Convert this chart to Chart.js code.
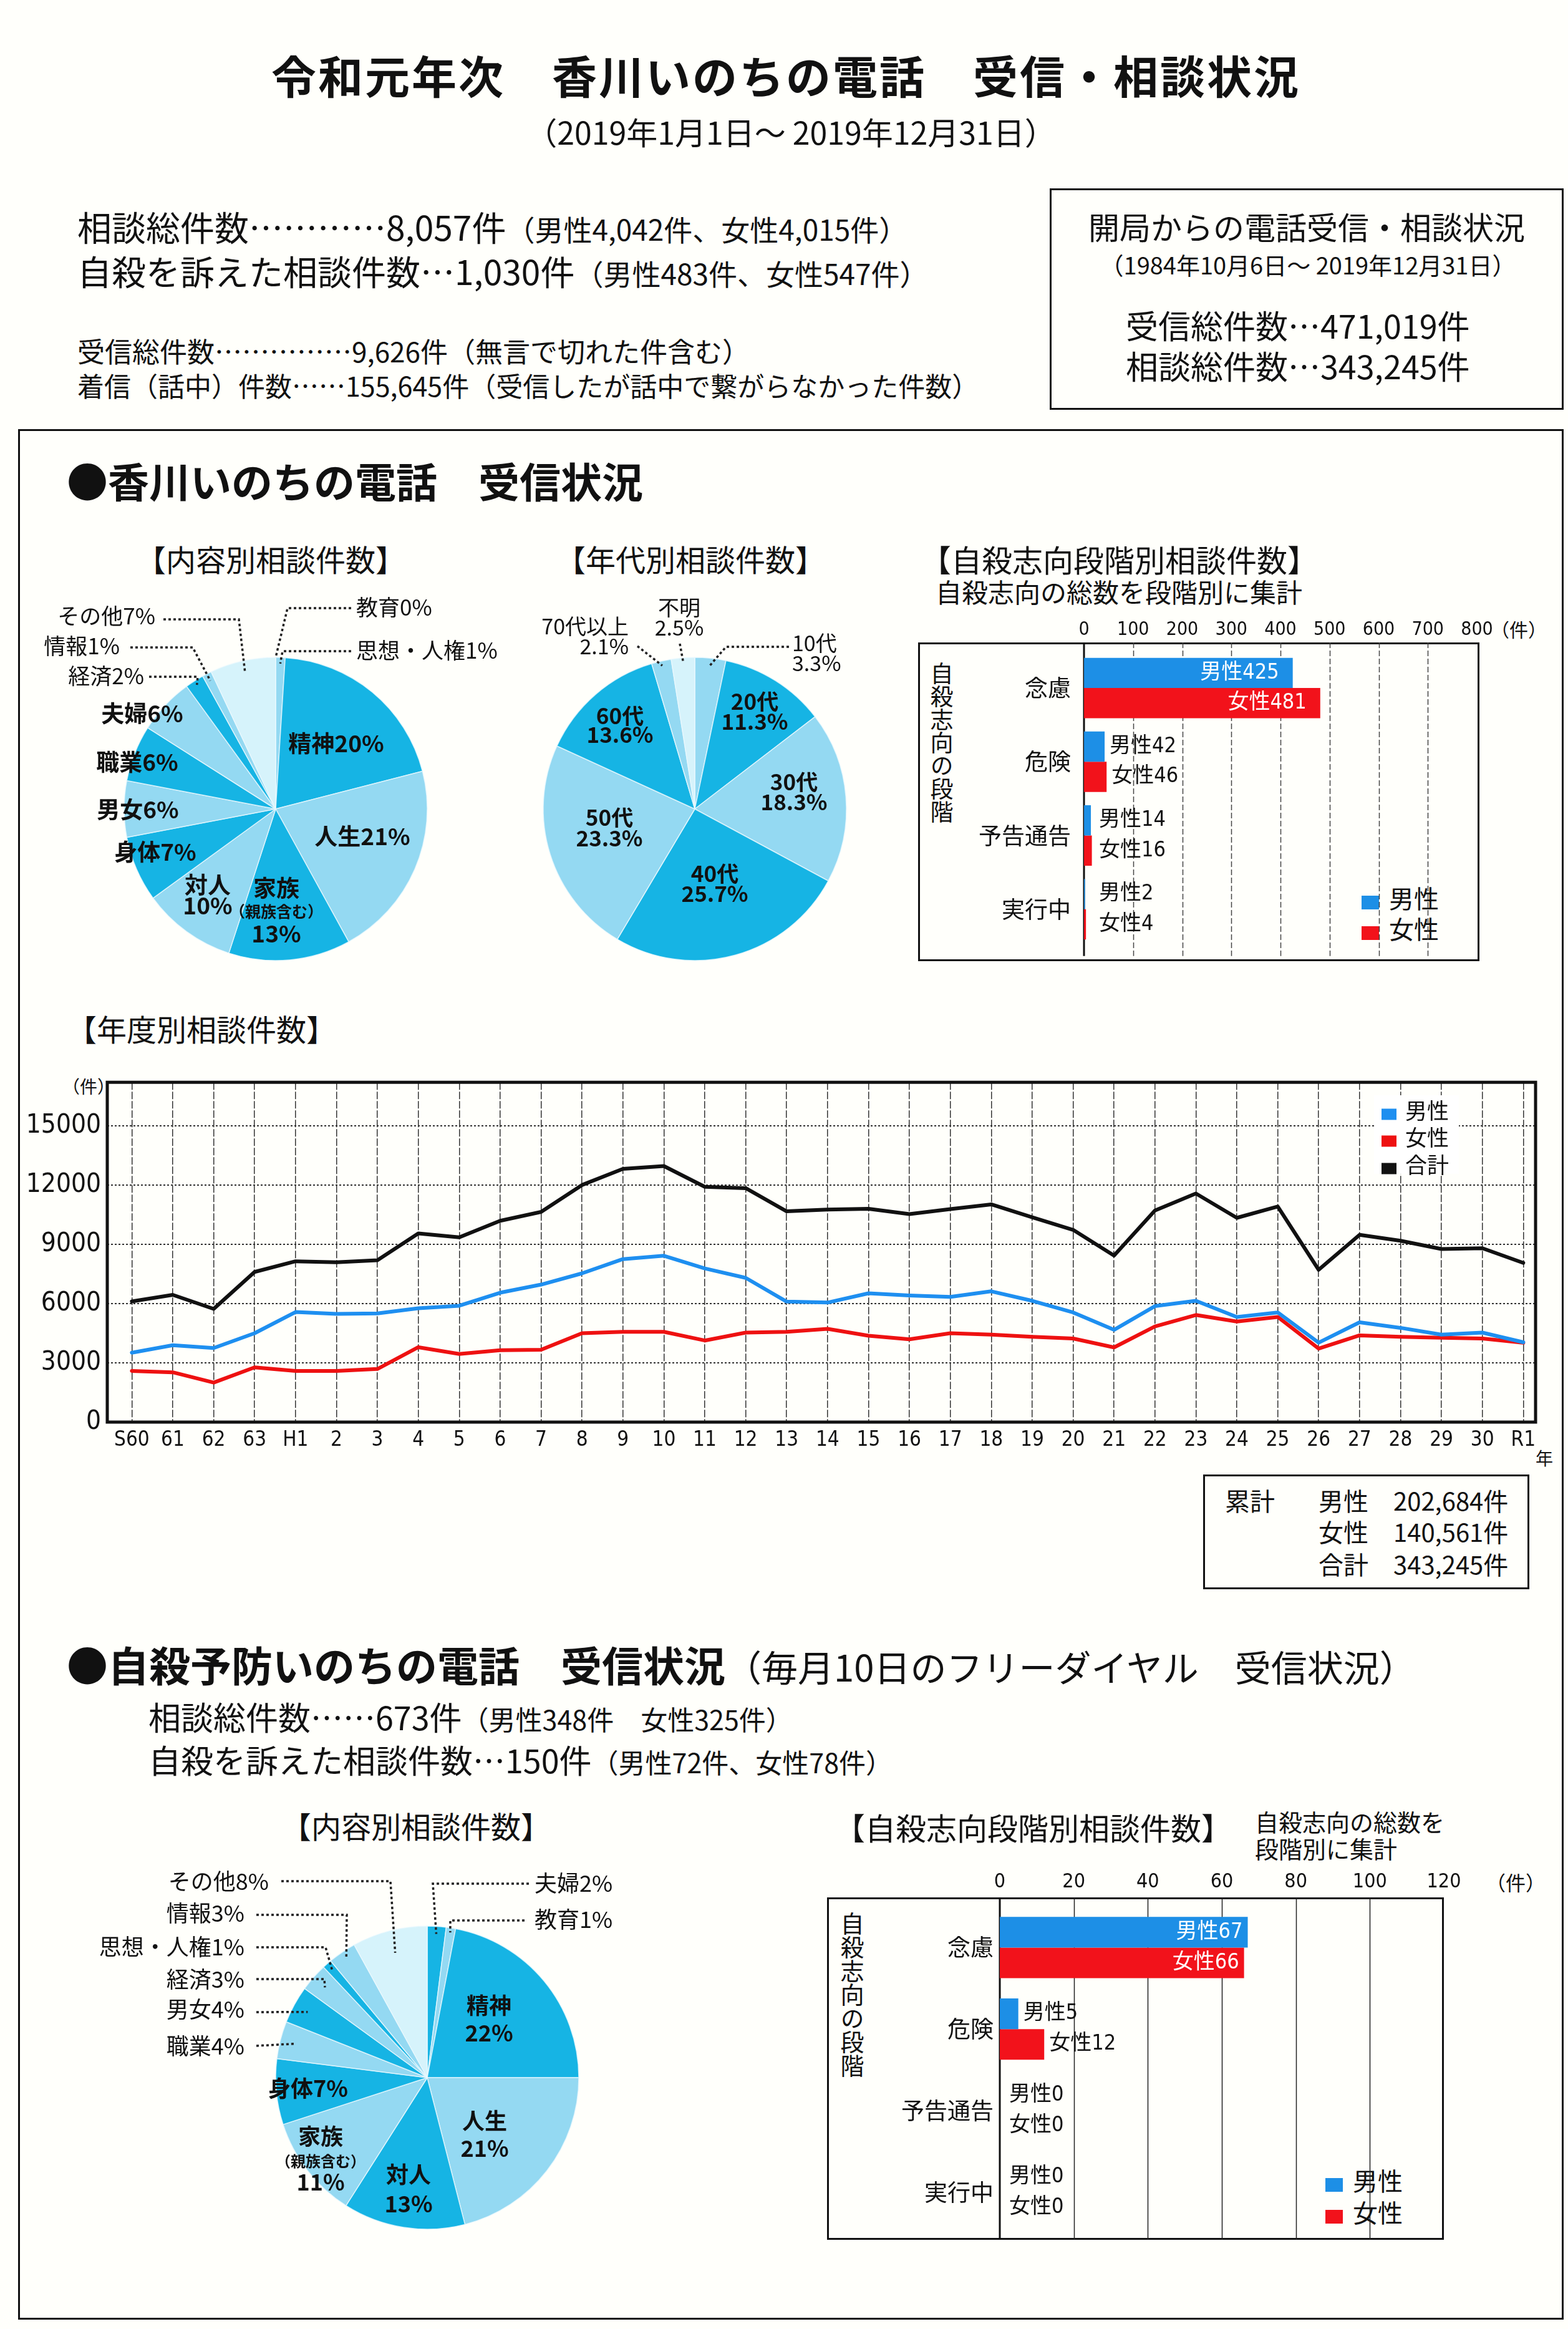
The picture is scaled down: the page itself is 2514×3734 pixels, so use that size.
<!DOCTYPE html>
<html><head><meta charset="utf-8">
<script src="https://cdn.jsdelivr.net/npm/chart.js@4.4.1/dist/chart.umd.min.js"></script>
<style>
body{margin:0;background:#fffffb;}
#page{position:relative;width:2514px;height:3734px;background:#fffffb;font-family:'Noto Sans CJK JP',sans-serif;color:#111;overflow:hidden}
.t{position:absolute;white-space:nowrap;line-height:1;transform:translateY(-50%)}
.c{transform:translate(-50%,-50%)}
.box{position:absolute;border:3px solid #111;box-sizing:border-box}
canvas{position:absolute}
.sq{display:inline-block;width:28px;height:22px;margin-right:16px;vertical-align:-2px}
.vt{position:absolute;writing-mode:vertical-rl;line-height:1;white-space:nowrap}
.nar{font-family:'Liberation Sans Narrow','DejaVu Sans Condensed','Noto Sans CJK JP',sans-serif}
</style></head>
<body><div id="page">

<div class="t c" style="left:1260px;top:119px;font-size:72px;font-weight:700;letter-spacing:3px">令和元年次　香川いのちの電話　受信・相談状況</div>
<div class="t c" style="left:1268px;top:210px;font-size:50px">（2019年1月1日～ 2019年12月31日）</div>

<div class="t" style="left:124px;top:362px;font-size:55px">相談総件数…………8,057件<span style="font-size:46px">（男性4,042件、女性4,015件）</span></div>
<div class="t" style="left:124px;top:433px;font-size:55px">自殺を訴えた相談件数…1,030件<span style="font-size:46px">（男性483件、女性547件）</span></div>
<div class="t" style="left:124px;top:562px;font-size:44px">受信総件数……………9,626件（無言で切れた件含む）</div>
<div class="t" style="left:124px;top:617px;font-size:43px">着信（話中）件数……155,645件（受信したが話中で繋がらなかった件数）</div>

<div class="box" style="left:1683px;top:302px;width:824px;height:355px"></div>
<div class="t c" style="left:2095px;top:362px;font-size:50px">開局からの電話受信・相談状況</div>
<div class="t c" style="left:2097px;top:424px;font-size:38px">（1984年10月6日～ 2019年12月31日）</div>
<div class="t" style="left:1805px;top:521px;font-size:52px">受信総件数…471,019件</div>
<div class="t" style="left:1805px;top:586px;font-size:52px">相談総件数…343,245件</div>

<div class="box" style="left:29px;top:688px;width:2478px;height:3031px"></div>

<div class="t" style="left:107px;top:769px;font-size:66px;font-weight:700">●香川いのちの電話　受信状況</div>
<div class="t c" style="left:434px;top:895px;font-size:48px">【内容別相談件数】</div>
<div class="t c" style="left:1107px;top:895px;font-size:48px">【年代別相談件数】</div>
<div class="t" style="left:1476px;top:895px;font-size:49px">【自殺志向段階別相談件数】</div>
<div class="t" style="left:1500px;top:948px;font-size:42px">自殺志向の総数を段階別に集計</div>

<div class="box" style="left:1472px;top:1030px;width:900px;height:511px"></div>
<div class="vt" style="left:1491px;top:1061px;font-size:37px">自殺志向の段階</div>
<div class="t nar" style="left:2390px;top:1011px;font-size:30px">（件）</div>
<div class="t" style="left:2183px;top:1439px;font-size:40px"><span class="sq" style="background:#1d8fe6"></span>男性</div>
<div class="t" style="left:2183px;top:1488px;font-size:40px"><span class="sq" style="background:#f2121b"></span>女性</div>

<div class="t" style="left:107px;top:1648px;font-size:48px">【年度別相談件数】</div>
<div class="t" style="left:100px;top:1741px;font-size:28px">（件）</div>
<div class="t" style="left:2462px;top:2337px;font-size:28px">年</div>

<div style="position:absolute;left:2203px;top:1756px;width:136px;height:126px;background:#fff;z-index:5">
  <div class="t" style="left:12px;top:22px;font-size:35px"><span class="sq" style="background:#1e8ff0;width:24px;height:18px;margin-right:14px"></span>男性</div>
  <div class="t" style="left:12px;top:65px;font-size:35px"><span class="sq" style="background:#ee1111;width:24px;height:18px;margin-right:14px"></span>女性</div>
  <div class="t" style="left:12px;top:109px;font-size:35px"><span class="sq" style="background:#111;width:24px;height:18px;margin-right:14px"></span>合計</div>
</div>

<div class="box" style="left:1929px;top:2364px;width:523px;height:184px"></div>
<div class="t" style="left:1964px;top:2405px;font-size:40px">累計</div>
<div class="t" style="left:2114px;top:2405px;font-size:40px">男性　202,684件</div>
<div class="t" style="left:2114px;top:2455px;font-size:40px">女性　140,561件</div>
<div class="t" style="left:2114px;top:2507px;font-size:40px">合計　343,245件</div>

<div class="t" style="left:107px;top:2667px;font-size:66px"><b>●自殺予防いのちの電話　受信状況</b><span style="font-size:58px">（毎月10日のフリーダイヤル　受信状況）</span></div>
<div class="t" style="left:238px;top:2752px;font-size:52px">相談総件数……673件<span style="font-size:43px">（男性348件　女性325件）</span></div>
<div class="t" style="left:238px;top:2821px;font-size:52px">自殺を訴えた相談件数…150件<span style="font-size:43px">（男性72件、女性78件）</span></div>

<div class="t c" style="left:667px;top:2926px;font-size:48px">【内容別相談件数】</div>
<div class="t" style="left:1338px;top:2928px;font-size:49px">【自殺志向段階別相談件数】</div>
<div class="t" style="left:2012px;top:2920px;font-size:38px">自殺志向の総数を</div>
<div class="t" style="left:2012px;top:2963px;font-size:38px">段階別に集計</div>

<div class="box" style="left:1326px;top:3042px;width:989px;height:549px"></div>
<div class="vt" style="left:1347px;top:3065px;font-size:38px">自殺志向の段階</div>
<div class="t nar" style="left:2382px;top:3020px;font-size:32px">（件）</div>
<div class="t" style="left:2125px;top:3495px;font-size:40px"><span class="sq" style="background:#1d8fe6"></span>男性</div>
<div class="t" style="left:2125px;top:3546px;font-size:40px"><span class="sq" style="background:#f2121b"></span>女性</div>

</div>
<script>
// ---- data ----
const yearLabels = ['S60','61','62','63','H1','2','3','4','5','6','7','8','9','10','11','12','13','14','15','16','17','18','19','20','21','22','23','24','25','26','27','28','29','30','R1'];
const maleByYear = [3510,3890,3750,4500,5570,5480,5500,5760,5890,6550,6960,7530,8250,8420,7780,7300,6100,6050,6520,6410,6340,6620,6140,5550,4670,5870,6140,5320,5550,4020,5050,4770,4430,4530,4042];
const femaleByYear = [2590,2520,2000,2770,2590,2590,2690,3790,3450,3640,3660,4500,4570,4570,4130,4530,4570,4720,4370,4190,4500,4430,4320,4230,3780,4840,5420,5090,5320,3720,4390,4320,4270,4230,4015];
const totalByYear = [6110,6440,5730,7600,8140,8090,8190,9550,9350,10190,10640,12000,12820,12960,11910,11840,10670,10760,10800,10530,10780,11020,10370,9730,8430,10710,11570,10340,10910,7710,9480,9180,8760,8800,8057];
const yearTicks = [0,3000,6000,9000,12000,15000];

const contentLabels1 = ['教育','思想・人権','精神','人生','家族（親族含む）','対人','身体','男女','職業','夫婦','経済','情報','その他'];
const contentPct1 = [0,1,20,21,13,10,7,6,6,6,2,1,7];

const ageLabels = ['10代','20代','30代','40代','50代','60代','70代以上','不明'];
const agePct = [3.3,11.3,18.3,25.7,23.3,13.6,2.1,2.5];

const stageLabels = ['念慮','危険','予告通告','実行中'];
const stageMale1 = [425,42,14,2];
const stageFemale1 = [481,46,16,4];

const contentLabels2 = ['夫婦','教育','精神','人生','対人','家族（親族含む）','身体','職業','男女','経済','思想・人権','情報','その他'];
const contentPct2 = [2,1,22,21,13,11,7,4,4,3,1,3,8];

const stageMale2 = [67,5,0,0];
const stageFemale2 = [66,12,0,0];

// ---- styles ----
const CJK = "'Noto Sans CJK JP', sans-serif";
const NARROW = "'Liberation Sans Narrow', 'DejaVu Sans Condensed', 'Noto Sans CJK JP', sans-serif";
const BLUE = '#1d8fe6', RED = '#f2121b';
const D = '#16b4e4', L = '#94d9f2', W = '#d6f3fb';
Chart.defaults.font.family = CJK;
Chart.defaults.color = '#111';

function mk(left, top, w, h) {
  const c = document.createElement('canvas');
  c.width = w; c.height = h;
  c.style.left = left + 'px'; c.style.top = top + 'px';
  c.style.width = w + 'px'; c.style.height = h + 'px';
  document.getElementById('page').appendChild(c);
  return c;
}

function buildLines(name, val, stack) {
  const pct = val + '%';
  if (!stack) return [[name + pct, 1]];
  const m = name.match(/^(.*?)(（.*）)$/);
  return m ? [[m[1], 1], [m[2], 0.68], [pct, 1]] : [[name, 1], [pct, 1]];
}

const pieLabels = {
  id: 'pieLabels',
  afterDatasetsDraw(chart, args, o) {
    const ctx = chart.ctx;
    const meta = chart.getDatasetMeta(0);
    const labels = chart.data.labels, vals = chart.data.datasets[0].data;
    const cx = meta.data[0].x, cy = meta.data[0].y;
    ctx.save();
    o.items.forEach((it, i) => {
      const arc = meta.data[i];
      if (it.leader) {
        const mid = (arc.startAngle + arc.endAngle) / 2;
        const r = arc.outerRadius * it.depth;
        ctx.setLineDash([4, 4]);
        ctx.lineWidth = 3.5;
        ctx.strokeStyle = '#222';
        ctx.beginPath();
        it.leader.forEach((p, k) => k ? ctx.lineTo(cx + p[0], cy + p[1]) : ctx.moveTo(cx + p[0], cy + p[1]));
        ctx.lineTo(cx + Math.cos(mid) * r, cy + Math.sin(mid) * r);
        ctx.stroke();
      }
      const lines = buildLines(labels[i], vals[i], it.stack);
      ctx.fillStyle = '#111';
      ctx.textAlign = it.align || 'center';
      ctx.textBaseline = 'middle';
      const size = it.bold ? o.boldSize : o.size;
      lines.forEach((ln, k) => {
        ctx.font = (it.bold ? '700 ' : '400 ') + Math.round(size * ln[1]) + 'px ' + CJK;
        ctx.fillText(ln[0], cx + it.dx, cy + it.dy[k]);
      });
    });
    ctx.restore();
  }
};

function makePie(cx, cy, w, h, labels, values, colors, items, size, boldSize) {
  new Chart(mk(cx - w / 2, cy - h / 2, w, h), {
    type: 'pie',
    data: { labels: labels, datasets: [{ data: values, backgroundColor: colors, borderColor: 'rgba(235,249,254,0.8)', borderWidth: 1.5 }] },
    options: {
      responsive: false, animation: false, devicePixelRatio: 1,
      radius: 243,
      layout: { padding: 0 },
      plugins: { legend: { display: false }, tooltip: { enabled: false }, pieLabels: { items: items, size: size, boldSize: boldSize } }
    },
    plugins: [pieLabels]
  });
}

// pie 1 : 内容別
makePie(442, 1297, 884, 700, contentLabels1, contentPct1,
  [L, L, D, L, D, L, D, L, D, L, D, L, W],
  [
    { dx: 129, dy: [-323], align: 'left', leader: [[121, -322], [19, -322]], depth: 1.0 },
    { dx: 129, dy: [-254], align: 'left', leader: [[121, -253], [11, -253]], depth: 0.96 },
    { dx: 97, dy: [-105], bold: true },
    { dx: 139, dy: [44], bold: true },
    { dx: 1, dy: [127, 164, 200], bold: true, stack: true },
    { dx: -109, dy: [122, 155], bold: true, stack: true },
    { dx: -193, dy: [69], bold: true },
    { dx: -221, dy: [1], bold: true },
    { dx: -222, dy: [-75], bold: true },
    { dx: -214, dy: [-153], bold: true },
    { dx: -211, dy: [-213], align: 'right', leader: [[-203, -212], [-125, -212]], depth: 0.97 },
    { dx: -250, dy: [-261], align: 'right', leader: [[-233, -259], [-133, -259]], depth: 0.95 },
    { dx: -193, dy: [-309], align: 'right', leader: [[-180, -304], [-59, -304]], depth: 0.93 }
  ], 35, 37);

// pie 2 : 年代別
makePie(1114, 1297, 700, 700, ageLabels, agePct,
  [L, D, L, D, L, D, L, W],
  [
    { dx: 156, dy: [-266, -234], align: 'left', stack: true, leader: [[151, -260], [50, -260]], depth: 0.95 },
    { dx: 96, dy: [-172, -140], bold: true, stack: true },
    { dx: 159, dy: [-43, -11], bold: true, stack: true },
    { dx: 32, dy: [104, 136], bold: true, stack: true },
    { dx: -137, dy: [14, 47], bold: true, stack: true },
    { dx: -120, dy: [-149, -119], bold: true, stack: true },
    { dx: -106, dy: [-293, -261], align: 'right', stack: true, leader: [[-92, -261]], depth: 0.97 },
    { dx: -25, dy: [-323, -291], stack: true, leader: [[-24, -265]], depth: 0.97 }
  ], 34, 35);

// pie 3 : 自殺予防 内容別
makePie(685, 3331, 1200, 720, contentLabels2, contentPct2,
  [D, L, D, L, D, L, D, L, D, L, D, L, W],
  [
    { dx: 172, dy: [-312], align: 'left', leader: [[163, -311], [9, -311]], depth: 0.95 },
    { dx: 172, dy: [-254], align: 'left', leader: [[156, -252], [37, -252]], depth: 0.97 },
    { dx: 99, dy: [-116, -72], bold: true, stack: true },
    { dx: 92, dy: [69, 113], bold: true, stack: true },
    { dx: -30, dy: [155, 202], bold: true, stack: true },
    { dx: -171, dy: [94, 134, 167], bold: true, stack: true },
    { dx: -191, dy: [17], bold: true },
    { dx: -293, dy: [-51], align: 'right', leader: [[-274, -51]], depth: 0.9 },
    { dx: -293, dy: [-110], align: 'right', leader: [[-274, -105]], depth: 0.9 },
    { dx: -293, dy: [-158], align: 'right', leader: [[-274, -158], [-165, -158]], depth: 0.9 },
    { dx: -293, dy: [-210], align: 'right', leader: [[-274, -209], [-163, -209]], depth: 0.95 },
    { dx: -293, dy: [-264], align: 'right', leader: [[-274, -261], [-129, -261]], depth: 0.95 },
    { dx: -254, dy: [-315], align: 'right', leader: [[-234, -315], [-59, -315]], depth: 0.85 }
  ], 36, 36);

// ---- bar charts ----
const barDecor = {
  id: 'barDecor',
  beforeDatasetsDraw(chart, args, o) {
    const ctx = chart.ctx, a = chart.chartArea, x = chart.scales.x;
    const top = a.top - o.extTop, bottom = a.bottom + o.extBottom;
    ctx.save();
    ctx.strokeStyle = o.gridColor; ctx.lineWidth = o.gridWidth; ctx.setLineDash(o.gridDash);
    x.ticks.forEach(t => {
      if (t.value === 0 || t.value === x.max) return;
      const px = Math.round(x.getPixelForValue(t.value)) + 0.5;
      ctx.beginPath(); ctx.moveTo(px, top); ctx.lineTo(px, bottom); ctx.stroke();
    });
    ctx.setLineDash([]); ctx.strokeStyle = '#111'; ctx.lineWidth = 3;
    const x0 = x.getPixelForValue(0);
    ctx.beginPath(); ctx.moveTo(x0, top); ctx.lineTo(x0, bottom); ctx.stroke();
    ctx.restore();
  },
  afterDatasetsDraw(chart, args, o) {
    const ctx = chart.ctx;
    ctx.save();
    ctx.font = o.fontSize + 'px ' + NARROW;
    ctx.textBaseline = 'middle';
    chart.data.datasets.forEach((ds, di) => {
      chart.getDatasetMeta(di).data.forEach((bar, i) => {
        const v = ds.data[i];
        const txt = ds.label + v;
        if (v >= o.insideMin) {
          ctx.fillStyle = '#fff'; ctx.textAlign = 'right';
          ctx.fillText(txt, bar.x - o.inset, bar.y);
        } else {
          ctx.fillStyle = '#111'; ctx.textAlign = 'left';
          ctx.fillText(txt, Math.max(bar.x + o.gap, bar.base + o.minStart), bar.y);
        }
      });
    });
    ctx.restore();
  }
};

function makeBar(left, top, w, h, male, female, max, step, cfg) {
  new Chart(mk(left, top, w, h), {
    type: 'bar',
    data: {
      labels: stageLabels,
      datasets: [
        { label: '男性', data: male, backgroundColor: BLUE },
        { label: '女性', data: female, backgroundColor: RED }
      ]
    },
    options: {
      indexAxis: 'y', responsive: false, animation: false, devicePixelRatio: 1,
      layout: { padding: { right: cfg.padRight, bottom: cfg.padBottom, top: 0, left: 0 } },
      datasets: { bar: { categoryPercentage: cfg.cat, barPercentage: 1 } },
      plugins: { legend: { display: false }, tooltip: { enabled: false }, barDecor: cfg.decor },
      scales: {
        x: {
          position: 'top', min: 0, max: max,
          ticks: { stepSize: step, font: { size: cfg.tickSize, family: NARROW }, padding: cfg.tickPad, color: '#111', maxRotation: 0 },
          grid: { display: false, drawTicks: false }, border: { display: false },
          afterFit(s) { s.height = cfg.axisH; }
        },
        y: {
          ticks: { font: { size: 37, family: CJK }, padding: cfg.labelPad, color: '#111' },
          grid: { display: false, drawTicks: false }, border: { display: false },
          afterFit(s) { s.width = cfg.axisW; }
        }
      }
    },
    plugins: [barDecor]
  });
}

makeBar(1440, 980, 1040, 580, stageMale1, stageFemale1, 800, 100, {
  padRight: 112, padBottom: 35, cat: 0.82, axisH: 64, axisW: 298, labelPad: 21, tickSize: 30, tickPad: 16,
  decor: { extTop: 14, extBottom: 16, gridColor: '#444', gridWidth: 1.5, gridDash: [9, 4], insideMin: 100, inset: 22, gap: 8, minStart: 24, fontSize: 34 }
});

makeBar(1300, 2990, 1180, 630, stageMale2, stageFemale2, 120, 20, {
  padRight: 165, padBottom: 40, cat: 0.75, axisH: 67, axisW: 303, labelPad: 10, tickSize: 32, tickPad: 20,
  decor: { extTop: 15, extBottom: 11, gridColor: '#222', gridWidth: 1.5, gridDash: [], insideMin: 30, inset: 8, gap: 8, minStart: 15, fontSize: 34 }
});

// ---- line chart ----
const frame = {
  id: 'frame',
  afterDraw(chart) {
    const ctx = chart.ctx, a = chart.chartArea;
    ctx.save();
    ctx.strokeStyle = '#111'; ctx.lineWidth = 5;
    ctx.strokeRect(a.left, a.top, a.right - a.left, a.bottom - a.top);
    ctx.restore();
  }
};

const toPts = arr => arr.map((v, i) => ({ x: i, y: v }));
const lineStyle = { pointRadius: 0, borderWidth: 6, tension: 0, borderJoinStyle: 'round', borderCapStyle: 'round', fill: false };

new Chart(mk(0, 1700, 2500, 650), {
  type: 'line',
  data: {
    datasets: [
      Object.assign({ label: '合計', data: toPts(totalByYear), borderColor: '#111' }, lineStyle),
      Object.assign({ label: '男性', data: toPts(maleByYear), borderColor: '#1e8ff0' }, lineStyle),
      Object.assign({ label: '女性', data: toPts(femaleByYear), borderColor: '#ee1111' }, lineStyle)
    ]
  },
  options: {
    responsive: false, animation: false, devicePixelRatio: 1,
    layout: { padding: { top: 30, right: 38, left: 0, bottom: 0 } },
    plugins: { legend: { display: false }, tooltip: { enabled: false } },
    scales: {
      x: {
        type: 'linear', min: -0.6, max: 34.3,
        ticks: { stepSize: 1, includeBounds: false, autoSkip: false, maxRotation: 0, font: { size: 33, family: NARROW }, padding: 10, color: '#111',
          callback: v => yearLabels[v] !== undefined ? yearLabels[v] : '' },
        grid: { color: '#333', lineWidth: 1.5, drawTicks: false },
        border: { display: false, dash: [12, 3] },
        afterFit(s) { s.height = 70; }
      },
      y: {
        min: 0, max: 17200,
        afterBuildTicks(s) { s.ticks = yearTicks.map(v => ({ value: v })); },
        ticks: { autoSkip: false, font: { size: 42, family: NARROW }, padding: 10, color: '#111', callback: v => String(v) },
        grid: { color: '#333', lineWidth: 2, drawTicks: false },
        border: { display: false, dash: [3, 3] },
        afterFit(s) { s.width = 172; }
      }
    }
  },
  plugins: [frame]
});
</script>
</body></html>
